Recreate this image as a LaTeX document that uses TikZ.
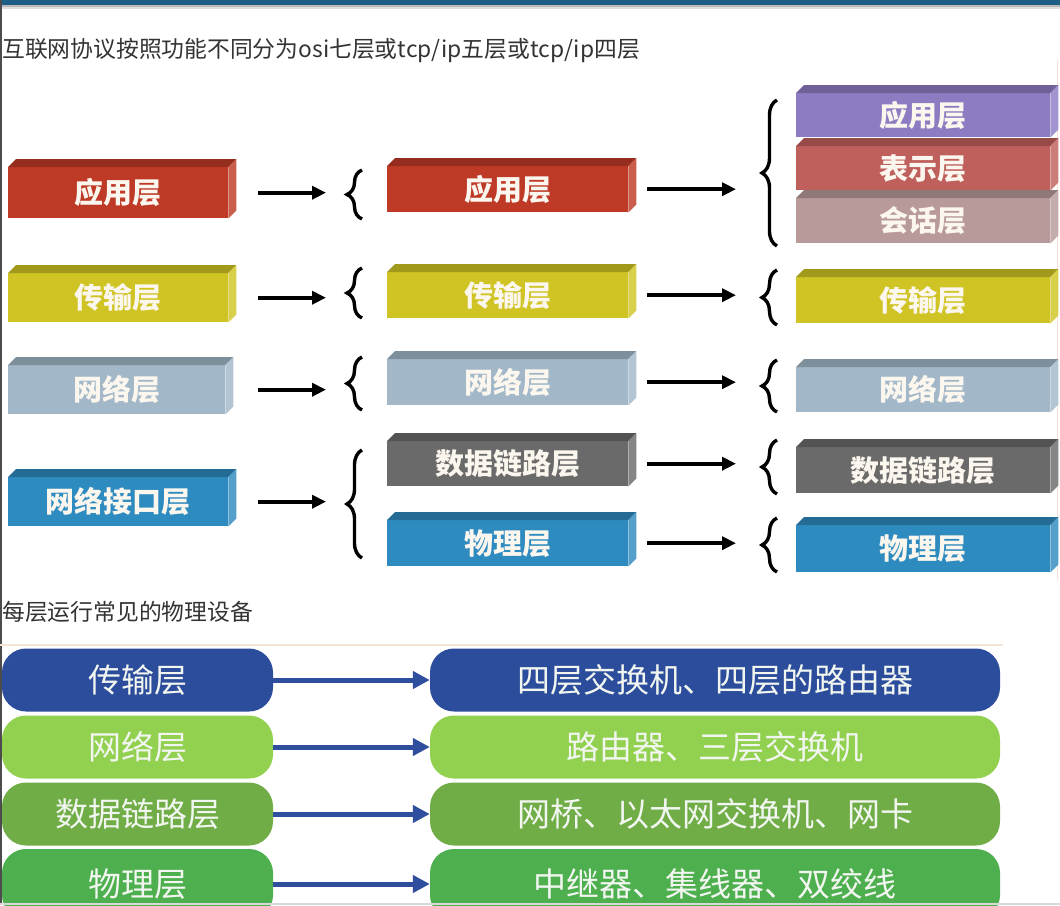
\documentclass[tikz,border=0pt]{standalone}
\usepackage{fontspec}
\setmainfont{Noto Sans CJK SC}
\usetikzlibrary{decorations.pathreplacing,arrows.meta}
\definecolor{topbar}{HTML}{1D5E86}
\definecolor{txtgray}{HTML}{333333}
\definecolor{cRed}{HTML}{BE3A26}
\definecolor{cYel}{HTML}{CFC423}
\definecolor{cGB}{HTML}{A2B7C8}
\definecolor{cBlue}{HTML}{2E8BC0}
\definecolor{cDG}{HTML}{6A6A6A}
\definecolor{cPur}{HTML}{8E7CC3}
\definecolor{cPink}{HTML}{C0605C}
\definecolor{cSes}{HTML}{B89A9A}
\definecolor{pBlue}{HTML}{2C4D9B}
\definecolor{pLG}{HTML}{92D050}
\definecolor{pMG}{HTML}{70AD47}
\definecolor{pG}{HTML}{4DAF4E}
\definecolor{arrBlue}{HTML}{2F4F9E}
\definecolor{pillText}{HTML}{F2F6F0}
\definecolor{beige}{HTML}{F2E4D6}
\definecolor{boxText}{HTML}{FBF6EE}
\newcommand\layerbox[7]{%
  \node[layerface, fill=#6, minimum width=#4pt, minimum height=#5pt] (#1) at (#2,#3) {#7};
  \fill[#6!78!black] (#1.north west) -- ++(8,-8) -- ([shift={(8,-8)}]#1.north east) -- (#1.north east) -- cycle;
  \fill[#6!82!white] (#1.north east) -- ++(8,-8) -- ([shift={(8,-8)}]#1.south east) -- (#1.south east) -- cycle;
}
\begin{document}
\begin{tikzpicture}[x=1pt,y=-1pt,
  layerface/.style={anchor=north west, inner sep=0pt, draw=none, text=boxText,
    font=\bfseries\fontsize{29}{29}\selectfont},
  brc/.style={draw=black, line width=3.4pt, decorate, decoration={brace, amplitude=15pt}},
  arr/.style={draw=black, line width=3.6pt, -{Triangle[length=14pt,width=13pt]}},
  pill/.style={rounded corners=24pt, inner sep=0pt, minimum height=63pt, text=pillText,
    font=\fontsize{33}{33}\selectfont},
  barr/.style={draw=arrBlue, line width=5pt, -{Triangle[length=17pt,width=17pt]}},
  heading/.style={anchor=west, inner sep=0pt, text=txtgray, font=\fontsize{22.8}{22.8}\selectfont}]
\useasboundingbox (0,0) rectangle (1060,905);
\clip (0,0) rectangle (1060,905);
\fill[white] (0,0) rectangle (1060,905);
% frame
\fill[topbar] (0,0) rectangle (1060,5);
\fill[gray!55] (0,5) rectangle (1060,7);
\fill[gray!25] (0,7) rectangle (1060,9);
\draw[beige, line width=1pt] (1057,60) -- (1057,580);
\draw[black!70, line width=1.5pt] (0.75,0) -- (0.75,905);
% headings
\node[heading] (title) at (2,50) {互联网协议按照功能不同分为osi七层或tcp/ip五层或tcp/ip四层};
\node[heading] (title2) at (2,612) {每层运行常见的物理设备};
% column 1
\layerbox{a1}{8}{167}{220}{51}{cRed}{应用层}
\layerbox{a2}{8}{273}{220}{49}{cYel}{传输层}
\layerbox{a3}{8}{365}{217}{49}{cGB}{网络层}
\layerbox{a4}{8}{477}{220}{49}{cBlue}{网络接口层}
% column 2
\layerbox{b1}{387}{166}{241}{46}{cRed}{应用层}
\layerbox{b2}{387}{272}{241}{46}{cYel}{传输层}
\layerbox{b3}{387}{359}{241}{46}{cGB}{网络层}
\layerbox{b4}{387}{441}{241}{45}{cDG}{数据链路层}
\layerbox{b5}{387}{520}{241}{46}{cBlue}{物理层}
% column 3
\layerbox{c1}{796}{93}{254}{44}{cPur}{应用层}
\layerbox{c2}{796}{146}{254}{44}{cPink}{表示层}
\layerbox{c3}{796}{198}{254}{45}{cSes}{会话层}
\layerbox{c4}{796}{277}{254}{46}{cYel}{传输层}
\layerbox{c5}{796}{367}{254}{45}{cGB}{网络层}
\layerbox{c6}{796}{447}{254}{46}{cDG}{数据链路层}
\layerbox{c7}{796}{525}{254}{47}{cBlue}{物理层}
% braces, column 2
\draw[brc] (362,219) -- (362,170);
\draw[brc] (362,318) -- (362,268);
\draw[brc] (362,410) -- (362,357);
\draw[brc] (362,558) -- (362,450);
% braces, column 3
\draw[brc] (777,246) -- (777,100);
\draw[brc] (777,325) -- (777,270);
\draw[brc] (777,412) -- (777,360);
\draw[brc] (777,494) -- (777,440);
\draw[brc] (777,572) -- (777,518);
% arrow ends
\coordinate (s1) at (258,0);
\coordinate (k1) at (326,0);
\coordinate (s2) at (647,0);
\coordinate (k2) at (736,0);
\draw[arr] (a1.east -| s1) -- (a1.east -| k1);
\draw[arr] (a2.east -| s1) -- (a2.east -| k1);
\draw[arr] (a3.east -| s1) -- (a3.east -| k1);
\draw[arr] (a4.east -| s1) -- (a4.east -| k1);
\draw[arr] (b1.east -| s2) -- (b1.east -| k2);
\draw[arr] (b2.east -| s2) -- (b2.east -| k2);
\draw[arr] (b3.east -| s2) -- (b3.east -| k2);
\draw[arr] (b4.east -| s2) -- (b4.east -| k2);
\draw[arr] (b5.east -| s2) -- (b5.east -| k2);
% bottom section
\draw[beige, line width=2pt] (0,645) -- (1003,645);
\node[pill, fill=pBlue, minimum width=271pt] (p1) at (137.5,680) {传输层};
\node[pill, fill=pLG,   minimum width=271pt] (p2) at (137.5,747) {网络层};
\node[pill, fill=pMG,   minimum width=271pt] (p3) at (137.5,814) {数据链路层};
\node[pill, fill=pG,    minimum width=271pt, minimum height=70pt] (p4) at (137.5,884) {物理层};
\node[pill, fill=pBlue, minimum width=570pt] (q1) at (715,680) {四层交换机、四层的路由器};
\node[pill, fill=pLG,   minimum width=570pt] (q2) at (715,747) {路由器、三层交换机};
\node[pill, fill=pMG,   minimum width=570pt] (q3) at (715,814) {网桥、以太网交换机、网卡};
\node[pill, fill=pG,    minimum width=570pt, minimum height=70pt] (q4) at (715,884) {中继器、集线器、双绞线};
\draw[barr] (p1.east) -- (q1.west);
\draw[barr] (p2.east) -- (q2.west);
\draw[barr] (p3.east) -- (q3.west);
\draw[barr] (p4.east) -- (q4.west);
\draw[black!15, line width=2pt] (0,904) -- (1060,904);
\end{tikzpicture}
\end{document}
